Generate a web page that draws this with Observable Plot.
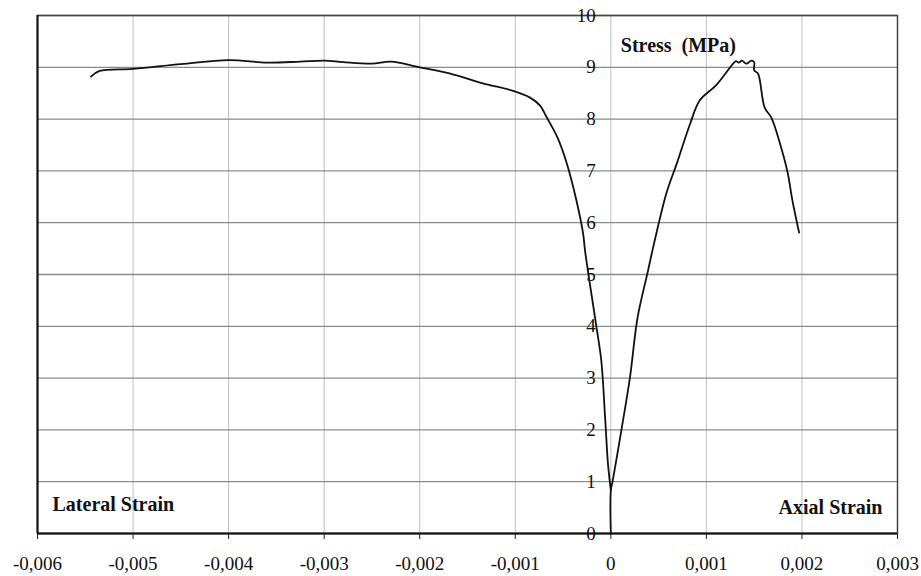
<!DOCTYPE html>
<html>
<head>
<meta charset="utf-8">
<script src="https://cdn.jsdelivr.net/npm/d3@7"></script>
<script src="https://cdn.jsdelivr.net/npm/@observablehq/plot@0.6"></script>
<style>
  html, body { margin: 0; padding: 0; background: #fff; }
  #chart svg { display: block; }
  #chart svg, #chart svg text { font-family: "Liberation Serif", "Times New Roman", Tinos, "DejaVu Serif", serif !important; }
</style>
</head>
<body>
<div id="chart"></div>
<script>
// Lateral strain curve (strain, stress MPa)
const lateralStrain = [0, -0.00003, -0.00006, -0.0001, -0.00015, -0.00022, -0.00027, -0.00029, -0.00036, -0.00046, -0.00056, -0.00067, -0.00074, -0.00085, -0.00105, -0.00134, -0.00168, -0.002, -0.0023, -0.0025, -0.0028, -0.003, -0.00325, -0.0036, -0.004, -0.0045, -0.005, -0.00535, -0.00544];
const lateralStress = [0.83, 1.35, 2.24, 3.34, 3.98, 4.83, 5.46, 5.79, 6.43, 7.14, 7.65, 8.03, 8.26, 8.42, 8.56, 8.69, 8.88, 9.0, 9.11, 9.07, 9.1, 9.13, 9.11, 9.09, 9.14, 9.06, 8.97, 8.93, 8.82];
// Axial strain curve
const axialStrain = [0, 0, 0.00002, 0.00011, 0.0002, 0.00028, 0.00039, 0.00044, 0.00058, 0.00069, 0.00083, 0.00093, 0.0011, 0.00128, 0.00131, 0.00134, 0.00137, 0.00142, 0.00147, 0.0015, 0.0015, 0.00154, 0.00161, 0.00168, 0.00177, 0.00185, 0.0019, 0.00197];
const axialStress = [0, 0.83, 1.02, 1.99, 3.01, 4.17, 5.08, 5.5, 6.56, 7.14, 7.91, 8.36, 8.65, 9.07, 9.12, 9.09, 9.13, 9.07, 9.13, 9.1, 8.94, 8.88, 8.22, 8.03, 7.53, 6.97, 6.43, 5.81];

const xTicks = [-0.006, -0.005, -0.004, -0.003, -0.002, -0.001, 0, 0.001, 0.002, 0.003];
const yTicks = [0, 1, 2, 3, 4, 5, 6, 7, 8, 9, 10];

const lateral = lateralStrain.map((x, i) => ({x, y: lateralStress[i]}));
const axial = axialStrain.map((x, i) => ({x, y: axialStress[i]}));

const fmt = d => d === 0 ? "0" : d.toFixed(3).replace(".", ",");
const serif = "Liberation Serif, Times New Roman, DejaVu Serif, serif";

const chart = Plot.plot({
  width: 921,
  height: 576,
  marginLeft: 37,
  marginRight: 24,
  marginTop: 15,
  marginBottom: 43,
  style: {fontFamily: serif, fontSize: "19px", color: "#111", background: "#fff"},
  x: {domain: [-0.006, 0.003], label: null, axis: null},
  y: {domain: [0, 10], label: null, axis: null},
  marks: [
    Plot.ruleX(xTicks, {stroke: "#bdbdbd", strokeWidth: 1}),
    Plot.ruleY(yTicks, {stroke: "#8a8a8a", strokeWidth: 1.3}),
    Plot.axisX({ticks: xTicks, tickFormat: fmt, label: null, tickSize: 6, tickPadding: 17, fontSize: 19, fontFamily: serif, stroke: "#222", fill: "#111"}),
    Plot.frame({stroke: "#444", strokeWidth: 1.5}),
    Plot.ruleX([-0.006], {stroke: "#111", strokeWidth: 2}),
    Plot.ruleY([0], {stroke: "#111", strokeWidth: 2}),
    Plot.text(yTicks, {x: () => 0, y: d => d, text: d => String(d), textAnchor: "end", dx: -15, fontSize: 19, fontFamily: serif, fill: "#111"}),
    Plot.line(lateral, {x: "x", y: "y", stroke: "#111", strokeWidth: 1.8, curve: "catmull-rom"}),
    Plot.line(axial, {x: "x", y: "y", stroke: "#111", strokeWidth: 1.8, curve: "catmull-rom"}),
    Plot.text(["Stress  (MPa)"], {x: () => 0, frameAnchor: "top", text: d => d, textAnchor: "start", dx: 10, dy: 22, fontWeight: "bold", fontSize: 20, fontFamily: serif, fill: "#111"}),
    Plot.text(["Lateral Strain"], {frameAnchor: "bottom-left", text: d => d, textAnchor: "start", dx: 15, dy: -23, fontWeight: "bold", fontSize: 20, fontFamily: serif, fill: "#111"}),
    Plot.text(["Axial Strain"], {frameAnchor: "bottom-right", text: d => d, textAnchor: "end", dx: -15, dy: -20, fontWeight: "bold", fontSize: 20, fontFamily: serif, fill: "#111"})
  ]
});
document.getElementById("chart").appendChild(chart);
</script>
</body>
</html>
